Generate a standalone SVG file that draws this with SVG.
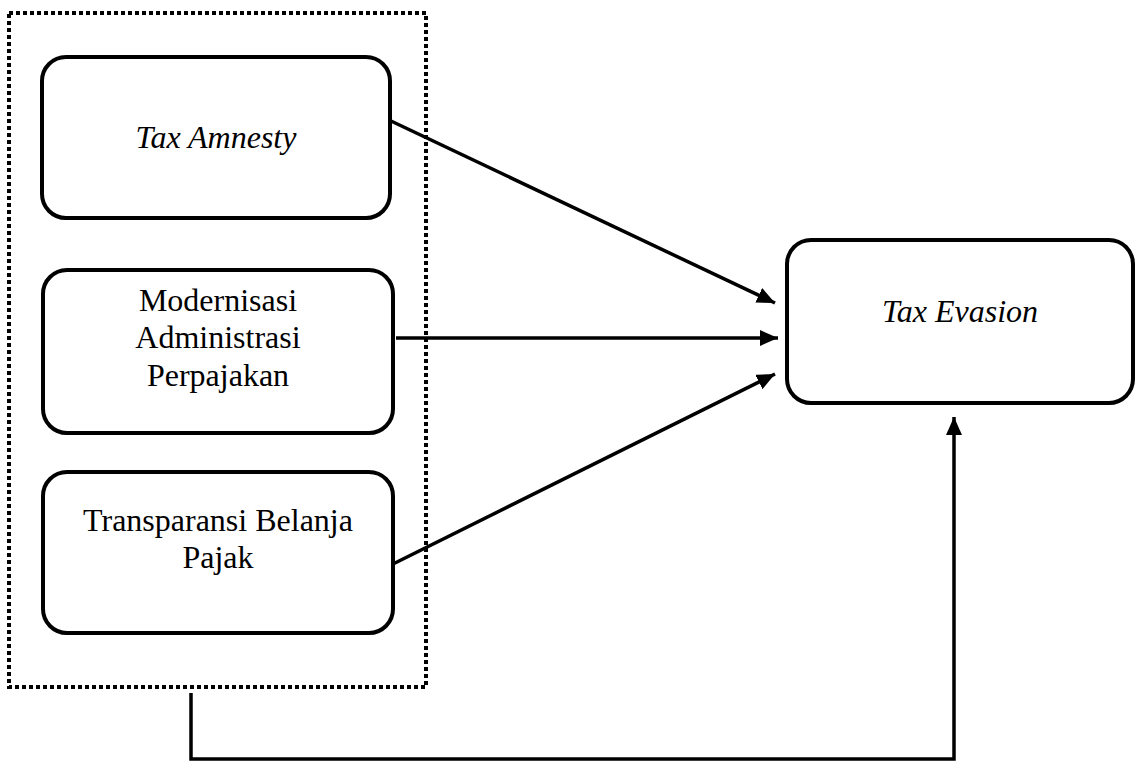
<svg xmlns="http://www.w3.org/2000/svg" width="1136" height="763" viewBox="0 0 1136 763">
<style>
.box{fill:#fff;stroke:#000;stroke-width:4}
.grp{fill:none;stroke:#000;stroke-width:4;stroke-dasharray:4 3}
.t{font-family:"Liberation Serif","Times New Roman",serif;font-size:32px;fill:#000;text-anchor:middle}
.i{font-style:italic}
.c{fill:none;stroke:#000;stroke-width:3.5}
</style>
<defs>
<marker id="arr" viewBox="0 0 18 16" refX="18" refY="8" markerWidth="18" markerHeight="16" orient="auto" markerUnits="userSpaceOnUse">
<path d="M0,0 L18,8 L0,16 Z" fill="#000"/>
</marker>
</defs>
<rect id="group" class="grp" x="9" y="13" width="417" height="674"/>
<g id="tax-amnesty">
<rect class="box" x="42" y="57" width="348" height="161" rx="24"/>
<text class="t i" x="216" y="148">Tax Amnesty</text>
</g>
<g id="modernisasi">
<rect class="box" x="43" y="270" width="350" height="163" rx="24"/>
<text class="t" x="218" y="311">Modernisasi</text>
<text class="t" x="218" y="348">Administrasi</text>
<text class="t" x="218" y="386">Perpajakan</text>
</g>
<g id="transparansi">
<rect class="box" x="43" y="472" width="350" height="161" rx="24"/>
<text class="t" x="218" y="531">Transparansi Belanja</text>
<text class="t" x="218" y="568">Pajak</text>
</g>
<g id="tax-evasion">
<rect class="box" x="787" y="240" width="346" height="163" rx="24"/>
<text class="t i" x="960" y="322">Tax Evasion</text>
</g>
<g id="connectors">
<line class="c" x1="391" y1="121" x2="775" y2="303" marker-end="url(#arr)"/>
<line class="c" x1="396" y1="338" x2="778" y2="338" marker-end="url(#arr)"/>
<line class="c" x1="393" y1="564" x2="775" y2="374" marker-end="url(#arr)"/>
<polyline class="c" points="191,693 191,759 954,759 954,417" marker-end="url(#arr)"/>
</g>
</svg>
